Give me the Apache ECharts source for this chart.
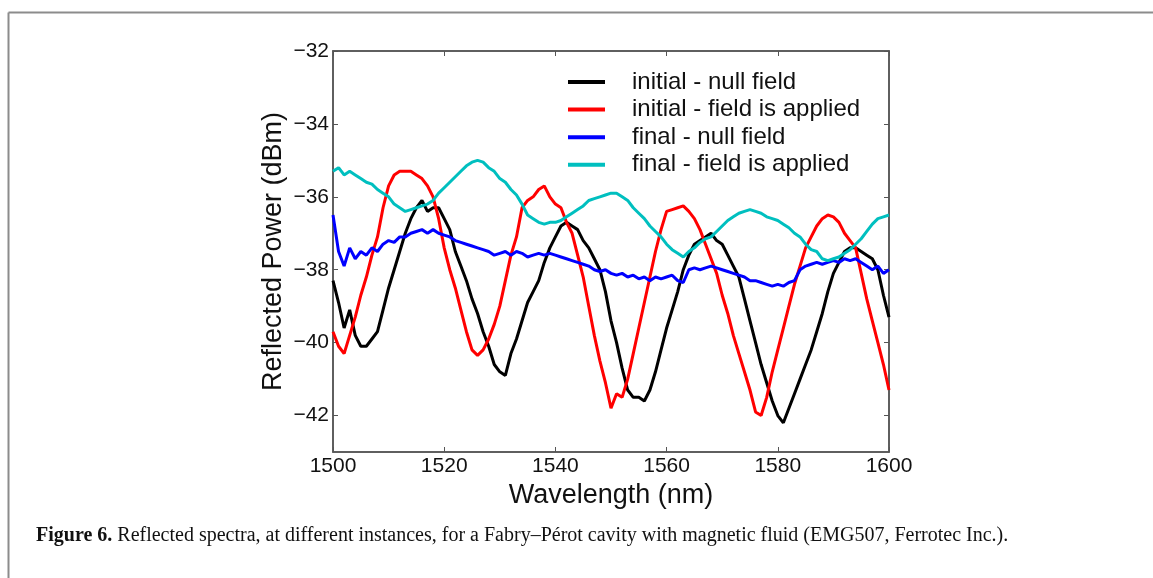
<!DOCTYPE html>
<html>
<head>
<meta charset="utf-8">
<script src="https://cdn.jsdelivr.net/npm/echarts@6/dist/echarts.min.js"></script>
<style>
html,body{margin:0;padding:0;background:#fff;}
#chart{width:1153px;height:578px;}
</style>
</head>
<body>
<div id="chart"></div>
<script>
// ---- data ----
var wavelength = [1500,1501,1502,1503,1504,1505,1506,1507,1508,1509,1510,1511,1512,1513,1514,1515,1516,1517,1518,1519,1520,1521,1522,1523,1524,1525,1526,1527,1528,1529,1530,1531,1532,1533,1534,1535,1536,1537,1538,1539,1540,1541,1542,1543,1544,1545,1546,1547,1548,1549,1550,1551,1552,1553,1554,1555,1556,1557,1558,1559,1560,1561,1562,1563,1564,1565,1566,1567,1568,1569,1570,1571,1572,1573,1574,1575,1576,1577,1578,1579,1580,1581,1582,1583,1584,1585,1586,1587,1588,1589,1590,1591,1592,1593,1594,1595,1596,1597,1598,1599,1600];

var initialNull = [-38.3,-38.9,-39.6,-39.1,-39.8,-40.1,-40.1,-39.9,-39.7,-39.1,-38.5,-38.0,-37.5,-37.0,-36.6,-36.3,-36.1,-36.4,-36.3,-36.3,-36.6,-36.9,-37.5,-37.9,-38.3,-38.8,-39.2,-39.7,-40.1,-40.6,-40.8,-40.9,-40.3,-39.9,-39.4,-38.9,-38.6,-38.3,-37.8,-37.4,-37.1,-36.8,-36.7,-36.8,-36.9,-37.2,-37.4,-37.7,-38.0,-38.6,-39.4,-40.0,-40.7,-41.3,-41.5,-41.5,-41.6,-41.3,-40.8,-40.2,-39.6,-39.1,-38.6,-38.0,-37.6,-37.3,-37.2,-37.1,-37.0,-37.2,-37.3,-37.6,-37.9,-38.2,-38.8,-39.4,-40.0,-40.6,-41.1,-41.6,-42.0,-42.2,-41.8,-41.4,-41.0,-40.6,-40.2,-39.7,-39.2,-38.6,-38.1,-37.8,-37.5,-37.4,-37.4,-37.5,-37.6,-37.7,-38.0,-38.7,-39.3];

var initialField = [-39.7,-40.1,-40.3,-39.8,-39.3,-38.7,-38.2,-37.6,-37.1,-36.3,-35.7,-35.4,-35.3,-35.3,-35.3,-35.4,-35.5,-35.7,-36.0,-36.6,-37.4,-38.0,-38.5,-39.1,-39.7,-40.2,-40.35,-40.2,-39.9,-39.5,-39.0,-38.3,-37.6,-37.1,-36.3,-36.1,-36.0,-35.8,-35.7,-36.0,-36.2,-36.3,-36.7,-37.0,-37.6,-38.2,-39.0,-39.8,-40.5,-41.1,-41.8,-41.4,-41.5,-41.0,-40.3,-39.6,-38.9,-38.2,-37.5,-36.9,-36.4,-36.35,-36.3,-36.25,-36.4,-36.6,-36.9,-37.3,-37.7,-38.1,-38.7,-39.2,-39.8,-40.3,-40.8,-41.3,-41.9,-42.0,-41.5,-40.8,-40.2,-39.6,-39.0,-38.4,-37.9,-37.4,-37.1,-36.8,-36.6,-36.5,-36.55,-36.7,-37.0,-37.2,-37.4,-38.1,-38.8,-39.4,-40.0,-40.6,-41.3];

var finalNull = [-36.5,-37.5,-37.9,-37.4,-37.7,-37.5,-37.6,-37.4,-37.5,-37.3,-37.2,-37.25,-37.1,-37.1,-37.0,-36.95,-36.9,-37.0,-36.9,-37.0,-37.05,-37.1,-37.2,-37.25,-37.3,-37.35,-37.4,-37.45,-37.5,-37.6,-37.55,-37.5,-37.6,-37.5,-37.55,-37.65,-37.6,-37.55,-37.6,-37.55,-37.6,-37.65,-37.7,-37.75,-37.8,-37.85,-37.9,-38.0,-38.05,-38.0,-38.1,-38.15,-38.1,-38.2,-38.15,-38.25,-38.2,-38.3,-38.2,-38.25,-38.2,-38.15,-38.3,-38.35,-38.0,-37.95,-38.0,-37.95,-37.9,-37.95,-38.0,-38.05,-38.1,-38.15,-38.2,-38.3,-38.3,-38.35,-38.4,-38.45,-38.4,-38.45,-38.35,-38.3,-38.0,-37.9,-37.85,-37.8,-37.85,-37.8,-37.75,-37.8,-37.7,-37.75,-37.7,-37.8,-37.9,-38.0,-37.9,-38.1,-38.0];

var finalField = [-35.3,-35.2,-35.4,-35.3,-35.4,-35.5,-35.6,-35.65,-35.8,-35.9,-36.0,-36.2,-36.3,-36.4,-36.35,-36.3,-36.25,-36.2,-36.1,-35.9,-35.75,-35.6,-35.45,-35.3,-35.15,-35.05,-35.0,-35.05,-35.2,-35.3,-35.5,-35.6,-35.8,-35.95,-36.2,-36.5,-36.6,-36.7,-36.75,-36.7,-36.7,-36.65,-36.55,-36.45,-36.35,-36.25,-36.1,-36.05,-36.0,-35.95,-35.9,-35.9,-36.0,-36.1,-36.3,-36.45,-36.6,-36.8,-36.95,-37.1,-37.3,-37.45,-37.55,-37.65,-37.5,-37.4,-37.25,-37.15,-37.1,-36.95,-36.8,-36.65,-36.55,-36.45,-36.4,-36.35,-36.4,-36.45,-36.55,-36.6,-36.65,-36.75,-36.85,-37.0,-37.1,-37.3,-37.45,-37.5,-37.7,-37.75,-37.7,-37.65,-37.55,-37.45,-37.3,-37.15,-36.95,-36.75,-36.6,-36.55,-36.5];

var seriesNames = ['initial - null field','initial - field is applied','final - null field','final - field is applied'];
var seriesColors = ['#000000','#ff0000','#0000ff','#00bfbf'];
var yTicks = [-42,-40,-38,-36,-34,-32];
var captionBold = 'Figure 6.';
var captionText = ' Reflected spectra, at different instances, for a Fabry\u2013P\u00e9rot cavity with magnetic fluid (EMG507, Ferrotec Inc.).';

// ---- chart ----
function pairs(ys){ return wavelength.map(function(x,i){ return [x, ys[i]]; }); }
var allData = [initialNull, initialField, finalNull, finalField];

var chart = echarts.init(document.getElementById('chart'), null, {renderer:'canvas'});
var frame = '#555555';
var sans = 'Liberation Sans, Arial, sans-serif';
var serif = 'Liberation Serif, Times New Roman, serif';

chart.setOption({
  animation: false,
  backgroundColor: '#ffffff',
  grid: {left: 333, top: 51, right: 264, bottom: 126, show: true, borderColor: frame, borderWidth: 1.5, containLabel: false},
  legend: {
    data: seriesNames, orient: 'vertical', left: 568, top: 70, padding: 0,
    icon: 'rect', itemWidth: 37, itemHeight: 4, itemGap: 3.6,
    textStyle: {fontFamily: sans, fontSize: 24, lineHeight: 24, color: '#111', padding: [0,0,0,22]}
  },
  xAxis: [{
    type: 'value', min: 1500, max: 1600, interval: 20, position: 'bottom',
    name: 'Wavelength (nm)', nameLocation: 'middle', nameGap: 27,
    nameTextStyle: {fontFamily: sans, fontSize: 27, color: '#111'},
    axisLine: {show: true, lineStyle: {color: frame, width: 1.5}},
    axisTick: {show: true, inside: true, length: 5, lineStyle: {color: frame}},
    axisLabel: {fontFamily: sans, fontSize: 21, color: '#111', margin: 4,
      formatter: function(v){ return String(v); }},
    splitLine: {show: false}
  }, {
    type: 'value', min: 1500, max: 1600, interval: 20, position: 'top',
    axisLine: {show: true, lineStyle: {color: frame, width: 1.5}},
    axisTick: {show: true, inside: true, length: 5, lineStyle: {color: frame}},
    axisLabel: {show: false}, splitLine: {show: false}
  }],
  yAxis: [{
    type: 'value', min: -43, max: -32, position: 'left',
    name: 'Reflected Power (dBm)', nameLocation: 'middle', nameGap: 46, nameRotate: 90,
    nameTextStyle: {fontFamily: sans, fontSize: 27, color: '#111'},
    axisLine: {show: true, lineStyle: {color: frame, width: 1.5}},
    axisTick: {show: true, inside: true, length: 5, customValues: yTicks, lineStyle: {color: frame}},
    axisLabel: {fontFamily: sans, fontSize: 21, color: '#111', margin: 4, customValues: yTicks,
      formatter: function(v){ return String(v).replace('-', '\u2212'); }},
    splitLine: {show: false}
  }, {
    type: 'value', min: -43, max: -32, position: 'right',
    axisLine: {show: true, lineStyle: {color: frame, width: 1.5}},
    axisTick: {show: true, inside: true, length: 5, customValues: yTicks, lineStyle: {color: frame}},
    axisLabel: {show: false}, splitLine: {show: false}
  }],
  series: allData.map(function(d, i){
    return {
      name: seriesNames[i], type: 'line', data: pairs(d), xAxisIndex: 0, yAxisIndex: 0,
      showSymbol: false, symbol: 'none', smooth: false,
      lineStyle: {color: seriesColors[i], width: 3}, itemStyle: {color: seriesColors[i]},
      z: 2 + i
    };
  }),
  graphic: [
    {type: 'line', shape: {x1: 8.5, y1: 12.5, x2: 1153, y2: 12.5}, style: {stroke: '#8c8c8c', lineWidth: 2}},
    {type: 'line', shape: {x1: 8.5, y1: 12.5, x2: 8.5, y2: 578}, style: {stroke: '#8c8c8c', lineWidth: 2}},
    {type: 'text', left: 36, top: 526, style: {
      text: '{b|' + captionBold + '}{n|' + captionText + '}',
      rich: {
        b: {fontFamily: serif, fontWeight: 'bold', fontSize: 20, fill: '#111'},
        n: {fontFamily: serif, fontSize: 20, fill: '#111'}
      }
    }}
  ]
});
</script>
</body>
</html>
